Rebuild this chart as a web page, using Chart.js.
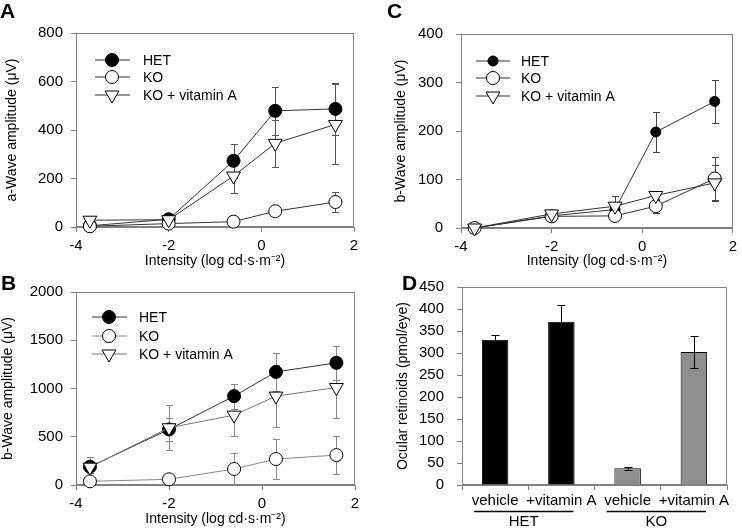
<!DOCTYPE html>
<html>
<head>
<meta charset="utf-8">
<script src="https://cdn.jsdelivr.net/npm/chart.js@4.4.0/dist/chart.umd.min.js"></script>
<style>
body { margin: 0; width: 742px; height: 531px; overflow: hidden; background: #fff; position: relative; font-family: "Liberation Sans", Arial, sans-serif; }
canvas { position: absolute; }
.letter { position: absolute; font-weight: bold; font-size: 21px; line-height: 1; color: #000; }
</style>
</head>
<body>
<canvas id="cA" width="371" height="280" style="left:0;top:0"></canvas>
<canvas id="cC" width="371" height="280" style="left:371px;top:0"></canvas>
<canvas id="cB" width="371" height="266" style="left:0;top:265px"></canvas>
<canvas id="cD" width="371" height="266" style="left:371px;top:265px"></canvas>
<div class="letter" style="left:0;top:0">A</div>
<div class="letter" style="left:1px;top:272px">B</div>
<div class="letter" style="left:387px;top:0">C</div>
<div class="letter" style="left:402px;top:272px">D</div>
<script>
// flash intensities (log cd·s·m-2)
const intensity = [-3.7, -2, -0.6, 0.3, 1.6];
const xTicks = [-4, 2];

// A: a-wave
const aHet = [5, 32, 273, 479, 487];
const aHetErr = [0, 15, 70, 100, 106];
const aKo = [3, 14, 22, 65, 103];
const aKoErr = [0, 5, 6, 20, 43];
const aVit = [28, 30, 210, 345, 423];
const aVitErr = [0, 5, 68, 97, 165];

// B: b-wave
const bHet = [190, 576, 921, 1172, 1266];
const bHetErr = [100, 122, 130, 200, 175];
const bKo = [38, 59, 166, 269, 310];
const bKoErr = [0, 0, 168, 210, 200];
const bVit = [185, 593, 724, 921, 1010];
const bVitErr = [60, 232, 217, 318, 313];

// C: b-wave
const cHet = [0, 25, 38, 198, 261];
const cHetErr = [0, 0, 0, 41, 45];
const cKo = [0, 24, 25, 45, 102];
const cKoErr = [0, 3, 5, 14, 45];
const cVit = [0, 29, 45, 67, 93];
const cVitErr = [0, 3, 20, 10, 37];

// D: ocular retinoids
const dLabels = ['vehicle', '+vitamin A', 'vehicle', '+vitamin A'];
const dBarGroup = ['HET', 'HET', 'KO', 'KO'];
const dGroups = ['HET', 'KO'];
const dValues = [330, 371, 38, 302];
const dErrors = [10, 37, 3, 36];

const groupColor = { HET: '#000000', KO: '#8e8e8e' };
const axisGray = '#808080';
const FONT = '"Liberation Sans", Arial, sans-serif';

Chart.defaults.font.family = FONT;
Chart.defaults.color = '#000';
Chart.defaults.animation = false;

const frame = {
    id: 'frame',
    beforeDatasetsDraw(chart) {
        const a = chart.chartArea, ctx = chart.ctx;
        ctx.save();
        ctx.strokeStyle = axisGray;
        ctx.lineWidth = 1;
        ctx.strokeRect(Math.round(a.left) + 0.5, Math.round(a.top) + 0.5,
            Math.round(a.width) - 1, Math.round(a.height) - 1);
        ctx.restore();
    }
};

function drawErrors(chart, onTop) {
    const ctx = chart.ctx, ys = chart.scales.y;
    chart.data.datasets.forEach((ds, i) => {
        if (!ds.errors || !!ds.errorsOnTop !== onTop) return;
        const meta = chart.getDatasetMeta(i);
        ctx.save();
        ctx.strokeStyle = ds.errorColor || '#000';
        ctx.lineWidth = 1;
        meta.data.forEach((el, j) => {
            const e = ds.errors[j];
            if (!e) return;
            const v = ds.data[j];
            const val = typeof v === 'object' ? v.y : v;
            const x = Math.round(el.x) + 0.5;
            const t = Math.round(ys.getPixelForValue(val + e)) + 0.5;
            const b = Math.round(ys.getPixelForValue(Math.max(0, val - e))) + 0.5;
            const w = ds.capHalf || 3.5;
            ctx.beginPath();
            ctx.moveTo(x, t); ctx.lineTo(x, b);
            ctx.moveTo(x - w, t); ctx.lineTo(x + w, t);
            if (val - e > 0) { ctx.moveTo(x - w, b); ctx.lineTo(x + w, b); }
            ctx.stroke();
        });
        ctx.restore();
    });
}

const errorBars = {
    id: 'errorBars',
    beforeDatasetsDraw(chart) { drawErrors(chart, false); },
    afterDatasetsDraw(chart) { drawErrors(chart, true); }
};

const insideLegend = {
    id: 'insideLegend',
    afterDatasetsDraw(chart, args, o) {
        if (!o || !o.rows) return;
        const a = chart.chartArea, ctx = chart.ctx;
        chart.data.datasets.forEach((ds, i) => {
            const y = a.top + o.rows[i];
            ctx.save();
            ctx.strokeStyle = ds.borderColor;
            ctx.lineWidth = 1;
            ctx.beginPath();
            ctx.moveTo(a.left + o.line[0], y);
            ctx.lineTo(a.left + o.line[1], y);
            ctx.stroke();
            ctx.fillStyle = ds.pointBackgroundColor;
            ctx.strokeStyle = ds.pointBorderColor;
            ctx.lineWidth = 1;
            Chart.helpers.drawPoint(ctx, {
                pointStyle: ds.pointStyle, rotation: ds.pointRotation || 0,
                radius: ds.pointRadius, borderWidth: 1
            }, a.left + o.mark, y);
            ctx.fillStyle = '#000';
            ctx.font = '14px ' + FONT;
            ctx.textBaseline = 'middle';
            ctx.fillText(ds.label, a.left + o.text, y + 1);
            ctx.restore();
        });
    }
};

function pts(ys) {
    return ys.map((y, i) => ({ x: intensity[i], y: y }));
}

// order: HET drawn first, KO + vitamin A on top
function series(label, ys, errs, kind, lineColor, errColor, r) {
    const ds = {
        label: label, data: pts(ys), errors: errs,
        borderColor: lineColor, borderWidth: 1, tension: 0, fill: false, clip: false,
        pointBorderColor: '#000', pointBorderWidth: 1, pointHoverRadius: r,
        errorColor: errColor
    };
    if (kind === 'het') {
        ds.pointStyle = 'circle'; ds.pointRadius = r; ds.pointBackgroundColor = '#000'; ds.order = 3;
    } else if (kind === 'ko') {
        ds.pointStyle = 'circle'; ds.pointRadius = r; ds.pointBackgroundColor = '#fff'; ds.order = 2;
    } else {
        ds.pointStyle = 'triangle'; ds.pointRotation = 180; ds.pointRadius = r;
        ds.pointBackgroundColor = '#fff'; ds.order = 1;
    }
    return ds;
}

const plainNum = v => String(v);

function lineChart(id, datasets, yMax, yStep, yTitle, lay) {
    return new Chart(document.getElementById(id), {
        type: 'line',
        data: { datasets: datasets },
        plugins: [frame, errorBars, insideLegend],
        options: {
            responsive: false,
            devicePixelRatio: 1,
            layout: { padding: lay.pad },
            plugins: {
                legend: { display: false },
                tooltip: { enabled: false },
                insideLegend: lay.legend
            },
            scales: {
                x: {
                    type: 'linear', min: xTicks[0], max: xTicks[1],
                    border: { color: axisGray },
                    grid: { drawOnChartArea: false, tickLength: 5, color: axisGray },
                    ticks: { stepSize: 2, font: { size: 15 }, padding: 5, color: '#000', callback: plainNum },
                    title: {
                        display: true, text: 'Intensity (log cd·s·m⁻²)',
                        font: { size: 14 }, padding: { top: 0, bottom: lay.xTitleBottom }
                    },
                    afterFit(s) { s.height = lay.xH; }
                },
                y: {
                    min: 0, max: yMax,
                    border: { color: axisGray },
                    grid: { drawOnChartArea: false, tickLength: 5, color: axisGray },
                    ticks: { stepSize: yStep, font: { size: 15 }, padding: lay.yPad, color: '#000', callback: plainNum },
                    title: {
                        display: true, text: yTitle,
                        font: { size: 14 }, padding: { top: lay.yTitleTop, bottom: 0 }
                    },
                    afterFit(s) { s.width = lay.yW; }
                }
            }
        }
    });
}

// panel A
lineChart('cA', [
    series('HET', aHet, aHetErr, 'het', '#333', '#555', 6.5),
    series('KO', aKo, aKoErr, 'ko', '#333', '#555', 6.5),
    series('KO + vitamin A', aVit, aVitErr, 'vit', '#333', '#555', 8)
], 800, 200, 'a-Wave amplitude (μV)', {
    pad: { top: 33, right: 17, left: 0, bottom: 6 },
    xH: 47, yW: 76, yPad: 8, yTitleTop: 4, xTitleBottom: 4,
    legend: { rows: [27, 44, 62], line: [19, 54], mark: 36, text: 67 }
});

// panel C
lineChart('cC', [
    series('HET', cHet, cHetErr, 'het', '#333', '#444', 5),
    series('KO', cKo, cKoErr, 'ko', '#333', '#444', 6.5),
    series('KO + vitamin A', cVit, cVitErr, 'vit', '#333', '#444', 8)
], 400, 100, 'b-Wave amplitude (μV)', {
    pad: { top: 34, right: 3, left: 18, bottom: 6 },
    xH: 46, yW: 72, yPad: 13, yTitleTop: 4, xTitleBottom: 4,
    legend: { rows: [27, 44, 62], line: [15, 49], mark: 32, text: 60 }
});

// panel B
lineChart('cB', [
    series('HET', bHet, bHetErr, 'het', '#333', '#888', 6.5),
    series('KO', bKo, bKoErr, 'ko', '#888', '#888', 6.5),
    series('KO + vitamin A', bVit, bVitErr, 'vit', '#777', '#888', 8)
], 2000, 500, 'b-Wave amplitude (μV)', {
    pad: { top: 27, right: 16, left: 0, bottom: 0 },
    xH: 46, yW: 76, yPad: 8, yTitleTop: 0, xTitleBottom: 3,
    legend: { rows: [25, 44, 62], line: [16, 51], mark: 33, text: 63 }
});

// panel D
const groupLabels = {
    id: 'groupLabels',
    afterDraw(chart) {
        const ctx = chart.ctx, xs = chart.scales.x;
        const lineY = 246.5, textY = 257;
        ctx.save();
        ctx.strokeStyle = '#000';
        ctx.lineWidth = 1.5;
        ctx.fillStyle = '#000';
        ctx.font = '15px ' + FONT;
        ctx.textAlign = 'center';
        ctx.textBaseline = 'middle';
        dGroups.forEach(g => {
            const first = dBarGroup.indexOf(g), last = dBarGroup.lastIndexOf(g);
            const x0 = xs.getPixelForValue(first) - 21;
            const x1 = xs.getPixelForValue(last) + 12;
            ctx.beginPath();
            ctx.moveTo(x0, lineY); ctx.lineTo(x1, lineY);
            ctx.stroke();
            ctx.fillText(g, (x0 + x1) / 2, textY);
        });
        ctx.restore();
    }
};

new Chart(document.getElementById('cD'), {
    type: 'bar',
    data: {
        labels: dLabels,
        datasets: [{
            data: dValues, errors: dErrors, errorsOnTop: true, errorColor: '#000', capHalf: 4,
            backgroundColor: dBarGroup.map(g => groupColor[g]),
            borderColor: '#000', borderWidth: 1,
            barPercentage: 0.4, categoryPercentage: 1
        }]
    },
    plugins: [frame, errorBars, groupLabels],
    options: {
        responsive: false,
        devicePixelRatio: 1,
        layout: { padding: { top: 18, right: 15, left: 20, bottom: 0 } },
        plugins: { legend: { display: false }, tooltip: { enabled: false } },
        scales: {
            x: {
                border: { color: axisGray },
                grid: { offset: true, drawOnChartArea: false, tickLength: 5, color: axisGray },
                ticks: { font: { size: 15 }, padding: 2, maxRotation: 0, autoSkip: false, color: '#000' },
                afterFit(s) { s.height = 46; }
            },
            y: {
                min: 0, max: 450,
                border: { color: axisGray },
                grid: { drawOnChartArea: false, tickLength: 5, color: axisGray },
                ticks: { stepSize: 50, font: { size: 15 }, padding: 13, color: '#000', callback: plainNum },
                title: {
                    display: true, text: 'Ocular retinoids (pmol/eye)',
                    font: { size: 14 }, padding: { top: 4, bottom: 0 }
                },
                afterFit(s) { s.width = 71; }
            }
        }
    }
});
</script>
</body>
</html>
